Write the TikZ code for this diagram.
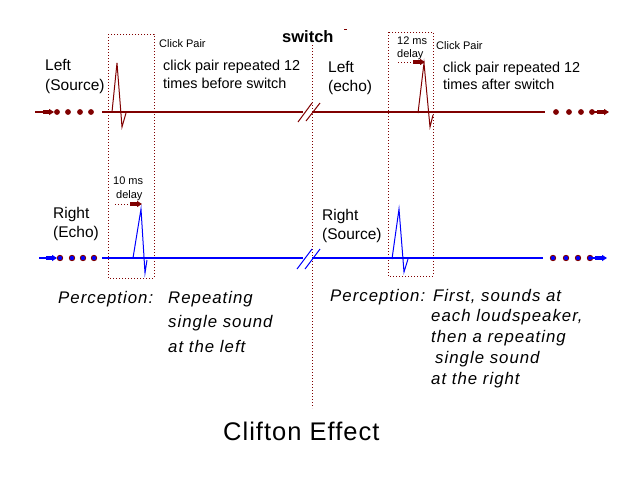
\documentclass[tikz,border=0pt]{standalone}
\usepackage{fontspec}
\setmainfont{Liberation Sans}
\newfontfamily\persp[LetterSpace=6]{Liberation Sans}
\newfontfamily\titlef[LetterSpace=4]{Liberation Sans}
\usetikzlibrary{arrows.meta}
\definecolor{dred}{RGB}{128,0,0}
\definecolor{sblue}{RGB}{0,0,255}
\begin{document}
\begin{tikzpicture}[x=1pt,y=-1pt,
  txt/.style={anchor=base west,inner sep=0pt,font=\fontsize{15.5}{18}\selectfont},
  small/.style={anchor=base west,inner sep=0pt,font=\fontsize{11}{13}\selectfont},
  mid/.style={anchor=base west,inner sep=0pt,font=\fontsize{14.4}{17}\selectfont},
  perc/.style={anchor=base west,inner sep=0pt,font=\persp\itshape\fontsize{16.8}{19}\selectfont},
  box/.style={draw=dred,line width=1pt,dash pattern=on 1pt off 2pt},
  redline/.style={draw=dred,line width=1.1pt},
  blueline/.style={draw=sblue,line width=1.1pt},
  pulse/.style={line width=1pt,line join=miter},
  tipr/.style={-{Triangle[length=5pt,width=6pt]}},
]
\useasboundingbox[fill=white] (0,0) rectangle (640,480);

% dotted boxes and switch line
\draw[box] (108,34) rectangle (154,278);
\draw[box] (388,32) rectangle (433,276);
\draw[box] (312,45) -- (312,408);
\draw[dred,line width=1pt] (344,29) -- (347,29);

% upper (left speaker) line
\coordinate (ua) at (35,112);  \coordinate (ub) at (54,112);
\draw[redline,tipr] (ua) -- (ub);
\draw[dred,line width=4.5pt] (43,112) -- (50,112);
\foreach \x in {57,68,80,91} \fill[dred] (\x,112) circle (2.9);
\draw[redline] (102,112) -- (303,112);
\draw[redline] (312,112) -- (545,112);
\draw[dred,line width=1pt] (298,122) -- (312,103);
\draw[dred,line width=1pt] (306,121) -- (320,103);
\foreach \x in {556,569,581,592} \fill[dred] (\x,112) circle (2.9);
\coordinate (uc) at (592,112);  \coordinate (ud) at (609,112);
\draw[redline,tipr] (uc) -- (ud);
\draw[dred,line width=4.5pt] (597,112) -- (604,112);

% lower (right speaker) line
\coordinate (la) at (39,258);  \coordinate (lb) at (57,258);
\draw[blueline,tipr] (la) -- (lb);
\draw[sblue,line width=4.5pt] (46,258) -- (53,258);
\foreach \x in {60,72,83,94} \filldraw[fill=sblue,draw=dred,line width=0.9pt] (\x,258) circle (2.7);
\draw[blueline] (102,258) -- (303,258);
\draw[blueline] (312,258) -- (543,258);
\draw[sblue,line width=1pt] (297,269) -- (312,249);
\draw[sblue,line width=1pt] (305,269) -- (320,249);
\foreach \x in {553,566,578,590} \filldraw[fill=sblue,draw=dred,line width=0.9pt] (\x,258) circle (2.7);
\coordinate (lc) at (590,258);  \coordinate (ld) at (607,258);
\draw[blueline,tipr] (lc) -- (ld);
\draw[sblue,line width=4.5pt] (595,258) -- (602,258);

% pulses
\draw[pulse,dred] (112,112) -- (117,63) -- (122,127) -- (126,113);
\draw[pulse,dred] (418,113) -- (424,63) -- (430,127) -- (433,115);
\draw[pulse,sblue] (133,258) -- (141,209) -- (145,273) -- (147,260);
\draw[pulse,sblue] (392,259) -- (399,209) -- (404,272) -- (408,259);

% delay arrows
\coordinate (da) at (115,204); \coordinate (db) at (142,204);
\draw[box,tipr] (da) -- (db);
\draw[dred,line width=4pt] (130,204) -- (137,204);
\coordinate (dc) at (398,62); \coordinate (dd) at (425,62);
\draw[box,tipr] (dc) -- (dd);
\draw[dred,line width=4pt] (413,62) -- (420,62);

% texts
\node[txt] (l1) at (45,70) {Left};
\node[txt] (l2) at (45,90) {(Source)};
\node[small] (cp1) at (159,47) {Click Pair};
\node[mid] (r1a) at (163,70) {click pair repeated 12};
\node[mid] (r1b) at (163,88) {times before switch};
\node[anchor=base west,inner sep=0pt,font=\bfseries\fontsize{16.5}{18}\selectfont] (sw) at (282,42) {switch};
\node[small] (d12a) at (397,44) {12 ms};
\node[small] (d12b) at (397,57) {delay};
\node[small] (cp2) at (436,49) {Click Pair};
\node[txt] (le1) at (328,72) {Left};
\node[txt] (le2) at (328,91) {(echo)};
\node[mid] (r2a) at (443,72) {click pair repeated 12};
\node[mid] (r2b) at (443,89) {times after switch};
\node[small] (d10a) at (113,184) {10 ms};
\node[small] (d10b) at (116,198) {delay};
\node[txt] (re1) at (53,218) {Right};
\node[txt] (re2) at (53,237) {(Echo)};
\node[txt] (rs1) at (322,220) {Right};
\node[txt] (rs2) at (322,239) {(Source)};

\node[perc] (p1) at (58,303) {Perception:};
\node[perc] (p1a) at (168,303) {Repeating};
\node[perc] (p1b) at (168,327) {single sound};
\node[perc] (p1c) at (168,352) {at the left};
\node[perc] (p2) at (330,301) {Perception:};
\node[perc] (p2a) at (433,301) {First, sounds at};
\node[perc] (p2b) at (431,321) {each loudspeaker,};
\node[perc] (p2c) at (431,342) {then a repeating};
\node[perc] (p2d) at (435,363) {single sound};
\node[perc] (p2e) at (431,384) {at the right};

\node[anchor=base west,inner sep=0pt,font=\titlef\fontsize{25.5}{28}\selectfont] (title) at (223,440) {Clifton Effect};
\end{tikzpicture}
\end{document}
